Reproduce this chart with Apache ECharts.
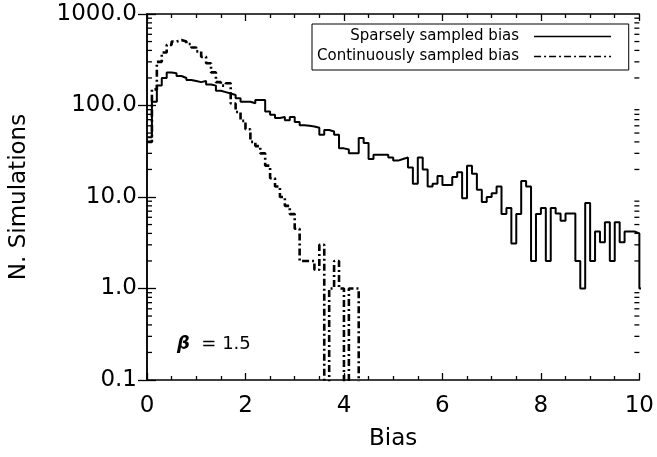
<!DOCTYPE html>
<html>
<head>
<meta charset="utf-8">
<script src="https://cdn.jsdelivr.net/npm/echarts@6/dist/echarts.min.js"></script>
<style>
html,body{margin:0;padding:0;background:#fff;}
#chart{width:657px;height:457px;}
</style>
</head>
<body>
<div id="chart"></div>
<script>
// ---- data ----
const binWidth = 0.1; // histogram bin width in Bias units, bins start at 0
const sparseCounts = [
  45, 110, 165, 200, 230, 225, 210, 200, 190, 185,
  180, 185, 170, 165, 145, 140, 135, 130, 120, 110,
  110, 106, 115, 115, 86, 79, 73, 75, 69, 75,
  66, 61, 60, 59, 57, 48, 54, 52, 48, 34,
  33, 30, 30, 44, 39, 26, 29, 29, 29, 27,
  25, 26, 27, 21, 14, 27, 20, 13, 14, 17,
  13.5, 13.5, 16.5, 18.7, 9.7, 22, 18, 12, 8.8, 10,
  11, 13, 6.5, 7.6, 3.1, 6.5, 15, 13, 2, 6.5,
  7.6, 2, 7.6, 6.6, 5.5, 6.6, 6.6, 2, 1, 8.6,
  2, 4.2, 3.2, 5.3, 2, 5.3, 3.2, 4.2, 4.2, 4,
  1
];
const continuousCounts = [
  40, 150, 300, 380, 460, 500, 520, 500, 470, 430,
  390, 340, 290, 230, 180, 165, 175, 105, 85, 68,
  55, 40, 36, 30, 22, 16, 13, 10, 8, 6.5,
  4.5, 2, 2, 2, 1.6, 3, 0, 1, 2, 1,
  0, 1, 1, 0
];
const seriesNames = ['Sparsely sampled bias', 'Continuously sampled bias'];
const xTicks = [0, 2, 4, 6, 8, 10];
const yTickLabels = ['0.1', '1.0', '10.0', '100.0', '1000.0'];
const minorMultipliers = [2, 3, 4, 5, 6, 7, 8, 9];
const decades = [0.1, 1, 10, 100];

// ---- build ----
const X_MIN = xTicks[0], X_MAX = xTicks[xTicks.length - 1];
const Y_MIN = parseFloat(yTickLabels[0]), Y_MAX = parseFloat(yTickLabels[yTickLabels.length - 1]);
const ZERO_FLOOR = 1e-3; // empty bins fall below the log axis and are clipped

function toSteps(counts) {
  const pts = counts.map((c, i) => [+(i * binWidth).toFixed(3), c > 0 ? c : ZERO_FLOOR]);
  const last = counts[counts.length - 1];
  pts.push([+(counts.length * binWidth).toFixed(3), last > 0 ? last : ZERO_FLOOR]);
  return pts;
}
const minorVals = [];
decades.forEach(d => minorMultipliers.forEach(m => minorVals.push([X_MIN, +(d * m).toPrecision(3)])));

const FONT = 'DejaVu Sans';
const chart = echarts.init(document.getElementById('chart'), null, {renderer: 'canvas'});

const xTickLen = 7, xMinorLen = 4, yTickLen = 9, yMinorLen = 5;
const axisLineStyle = {color: '#000', width: 1.5};
const tickStyle = {color: '#000', width: 1.3};

chart.setOption({
  animation: false,
  backgroundColor: '#fff',
  textStyle: {fontFamily: FONT, color: '#000'},
  grid: {left: 147, right: 17, top: 14, bottom: 77, containLabel: false},
  legend: {
    data: seriesNames,
    orient: 'vertical',
    left: 312, top: 24,
    align: 'right',
    padding: [5, 17, 6, 5],
    itemGap: 5,
    itemWidth: 77,
    itemHeight: 14,
    borderColor: '#000',
    borderWidth: 1,
    borderRadius: 0,
    itemStyle: {opacity: 0},
    lineStyle: {width: 1.3},
    formatter: n => '{t|' + n + '}',
    textStyle: {
      color: '#000', fontFamily: FONT,
      rich: {t: {fontFamily: FONT, fontSize: 15, color: '#000', width: 203, align: 'right', padding: [0, 10, 0, 0]}}
    }
  },
  xAxis: [{
    type: 'value', min: X_MIN, max: X_MAX, interval: xTicks[1] - xTicks[0],
    position: 'bottom',
    name: 'Bias', nameLocation: 'middle', nameGap: 48,
    nameTextStyle: {fontSize: 23, fontFamily: FONT, color: '#000'},
    axisLine: {show: true, lineStyle: axisLineStyle},
    axisTick: {show: true, inside: true, length: xTickLen, lineStyle: tickStyle},
    minorTick: {show: true, splitNumber: 4, length: xMinorLen, lineStyle: tickStyle},
    axisLabel: {fontSize: 23, fontFamily: FONT, color: '#000', margin: 15},
    splitLine: {show: false}
  }, {
    type: 'value', min: X_MIN, max: X_MAX, interval: xTicks[1] - xTicks[0],
    position: 'top',
    axisLine: {show: true, lineStyle: axisLineStyle},
    axisTick: {show: true, inside: true, length: xTickLen, lineStyle: tickStyle},
    minorTick: {show: true, splitNumber: 4, length: xMinorLen, lineStyle: tickStyle},
    axisLabel: {show: false},
    splitLine: {show: false}
  }],
  yAxis: [{
    type: 'log', logBase: 10, min: Y_MIN, max: Y_MAX,
    position: 'left',
    name: 'N. Simulations', nameLocation: 'middle', nameGap: 116, nameRotate: 90,
    nameTextStyle: {fontSize: 23, fontFamily: FONT, color: '#000'},
    axisLine: {show: true, lineStyle: axisLineStyle},
    axisTick: {show: true, inside: true, length: yTickLen, lineStyle: tickStyle},
    axisLabel: {fontSize: 23, fontFamily: FONT, color: '#000', margin: 10,
      formatter: v => { const s = yTickLabels.find(t => Math.abs(parseFloat(t) - v) / v < 1e-6); return s || ''; }},
    splitLine: {show: false}
  }, {
    type: 'log', logBase: 10, min: Y_MIN, max: Y_MAX,
    position: 'right',
    axisLine: {show: true, lineStyle: axisLineStyle},
    axisTick: {show: true, inside: true, length: yTickLen, lineStyle: tickStyle},
    axisLabel: {show: false},
    splitLine: {show: false}
  }],
  graphic: [{
    type: 'text', left: 177, top: 335, silent: true,
    style: {
      text: '{b|β}  = 1.5',
      rich: {b: {fontFamily: FONT, fontSize: 18, fontWeight: 'bold', fontStyle: 'italic', fill: '#000'}},
      font: '18px "DejaVu Sans"', fill: '#000'
    }
  }],
  series: [{
    name: seriesNames[0], type: 'line', step: 'end',
    xAxisIndex: 0, yAxisIndex: 0,
    data: toSteps(sparseCounts),
    symbol: 'none', clip: true,
    lineStyle: {color: '#000', width: 2, type: 'solid'},
    itemStyle: {color: '#000'}
  }, {
    name: seriesNames[1], type: 'line', step: 'end',
    xAxisIndex: 0, yAxisIndex: 0,
    data: toSteps(continuousCounts),
    symbol: 'none', clip: true,
    lineStyle: {color: '#000', width: 2.6, type: [7, 3, 2, 3]},
    itemStyle: {color: '#000'}
  }, {
    name: 'minorTicks', type: 'custom',
    xAxisIndex: 0, yAxisIndex: 0,
    silent: true, clip: false, z: 5,
    data: minorVals,
    encode: {x: 0, y: 1},
    renderItem: function (params, api) {
      const v = api.value(1);
      const pl = api.coord([X_MIN, v]);
      const pr = api.coord([X_MAX, v]);
      const st = {stroke: '#000', lineWidth: 1.3};
      return {type: 'group', children: [
        {type: 'line', shape: {x1: pl[0], y1: pl[1], x2: pl[0] + yMinorLen, y2: pl[1]}, style: st},
        {type: 'line', shape: {x1: pr[0], y1: pr[1], x2: pr[0] - yMinorLen, y2: pr[1]}, style: st}
      ]};
    }
  }]
});
</script>
</body>
</html>
